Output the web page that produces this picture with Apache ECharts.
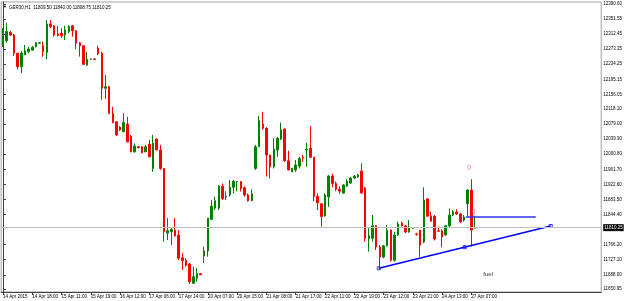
<!DOCTYPE html>
<html>
<head>
<meta charset="utf-8">
<script src="https://cdn.jsdelivr.net/npm/echarts@6/dist/echarts.min.js"></script>
<style>
  html, body { margin: 0; padding: 0; background: #fff; }
  #chart { width: 625px; height: 301px; }
</style>
</head>
<body>
<div id="chart"></div>
<script>
// GER30 H1, bars 0..129 (14 Apr 2015 -> 27 Apr 08:00)
const opens = [
  12282,12295,12317,12310,12263,12228,12259,12267,12271,12280,
  12289,12282,12265,12339,12334,12313,12315,12310,12319,12334,
  12321,12290,12282,12232,12247,12248,12276,12263,12172,12176,
  12107,12085,12071,12059,12079,12048,12007,12020,12020,12007,
  12027,11964,12040,12012,11964,11796,11800,11804,11791,11732,
  11726,11716,11666,11679,11691,11737,11750,11832,11861,11861,
  11918,11890,11895,11915,11929,11930,11914,11895,11880,11964,
  12020,12079,12068,11999,11968,12012,12040,12066,11984,11955,
  11960,11970,11993,12012,12016,11993,11891,11872,11841,11890,
  11944,11925,11910,11900,11918,11926,11939,11942,11957,11913,
  11781,11783,11815,11760,11734,11763,11804,11726,11791,11822,
  11815,11799,11809,11794,11804,11773,11885,11840,11840,11802,
  11802,11791,11815,11843,11851,11846,11830,11872,11908,11809.50
];
const closes = [
  12323,12319,12310,12263,12228,12263,12269,12274,12278,12290,
  12290,12267,12339,12332,12310,12309,12308,12323,12332,12321,
  12289,12282,12234,12247,12248,12247,12261,12172,12176,12107,
  12083,12051,12064,12083,12033,12007,12022,12018,12005,12020,
  11994,12029,12012,11964,11800,11802,11806,11789,11731,11725,
  11713,11670,11683,11692,11688,11750,11835,11866,11880,11918,
  11886,11892,11915,11930,11930,11912,11895,11880,11898,12020,
  12088,12068,11999,11968,12014,12042,12064,11984,11960,11964,
  11973,11990,11991,12014,11993,11891,11875,11839,11895,11944,
  11925,11910,11905,11921,11931,11939,11944,11947,11900,11783,
  11789,11815,11760,11734,11763,11804,11726,11791,11820,11815,
  11799,11812,11810,11793,11765,11882,11840,11827,11781,11801,
  11786,11815,11843,11851,11846,11825,11838,11908,11804,11810.25
];
const lows = [
  12279,12290,12308,12256,12221,12212,12258,12263,12269,12278,
  12287,12254,12247,12328,12306,12306,12302,12297,12315,12306,
  12273,12254,12232,12231,12246,12246,12258,12142,12144,12105,
  12081,12048,12061,12058,12032,12006,12005,12016,12003,12006,
  11993,11955,12011,11960,11774,11778,11765,11787,11726,11700,
  11709,11664,11664,11670,11687,11718,11735,11830,11856,11856,
  11882,11882,11891,11899,11904,11904,11891,11878,11879,11960,
  12020,12064,11943,11938,11964,11994,12038,11981,11959,11955,
  11955,11964,11981,11968,11991,11879,11856,11813,11839,11864,
  11915,11905,11898,11898,11916,11924,11937,11940,11898,11774,
  11748,11774,11752,11707,11731,11761,11722,11722,11789,11813,
  11796,11797,11807,11789,11735,11770,11839,11826,11777,11800,
  11759,11791,11811,11840,11843,11823,11826,11839,11761,11808.75
];
const highs = [
  12328,12342,12321,12313,12264,12269,12284,12280,12282,12292,
  12291,12293,12349,12349,12336,12334,12328,12334,12336,12336,
  12323,12292,12284,12267,12249,12249,12282,12267,12206,12178,
  12124,12087,12074,12107,12098,12051,12029,12022,12022,12025,
  12038,12051,12042,12025,11965,11835,11809,11835,11804,11744,
  11731,11719,11709,11705,11692,11761,11835,11882,11891,11921,
  11925,11904,11934,11934,11931,11931,11917,11899,11910,12025,
  12100,12111,12071,11999,12042,12045,12083,12068,12010,11965,
  11986,11994,11999,12031,12074,11994,11899,11874,11899,11947,
  11950,11930,11918,11923,11936,11942,11947,11950,11977,11915,
  11809,11843,11817,11765,11765,11817,11806,11800,11826,11826,
  11817,11830,11812,11797,11804,11915,11886,11852,11843,11813,
  11806,11817,11860,11856,11858,11848,11843,11910,11936,11840.00
];

// time labels, one every 8 bars
const xTickLabels = [
  '14 Apr 2015','14 Apr 18:00','15 Apr 11:00','15 Apr 19:00','16 Apr 12:00',
  '17 Apr 06:00','17 Apr 14:00','20 Apr 07:00','20 Apr 15:00','21 Apr 08:00',
  '21 Apr 17:00','22 Apr 11:00','22 Apr 19:00','23 Apr 12:00','23 Apr 21:00',
  '24 Apr 13:00','27 Apr 07:00'
];
const yTickLabels = [
  '12390.60','12351.55','12312.45','12273.35','12234.25','12195.15','12156.05',
  '12118.10','12079.00','12039.90','12000.80','11961.70','11922.60','11883.50',
  '11844.40','11766.20','11727.10','11688.00','11650.95'
];
const lastPrice = 11810.25;
const header = 'GER30,H1  11809.50 11840.00 11808.75 11810.25';

// drawn objects (bar index, price)
const trendLine = [[102.7, 11704.8], [149.7, 11814.5]];
const trendHandles = [[102.7, 11704.8], [126.2, 11759.6], [149.7, 11814.5]];
const levelLine = [[126.5, 11838], [145.6, 11838]];
const arrowMarks = [[127.4, 11965], [128.6, 11852]];
const noteText = [[132.6, 11690, 'fuel']];

const slots = 164;     // chart shift leaves empty room on the right
const step = 8;

const categories = [];
for (let i = 0; i < slots; i++) {
  categories.push(i % step === 0 && i / step < xTickLabels.length ? xTickLabels[i / step] : '');
}
const candles = opens.map((o, i) => [o, closes[i], lows[i], highs[i]]);
const showTick = (idx) => idx % step === 0 && idx / step < xTickLabels.length;

const font = 'Liberation Sans, Arial, sans-serif';
const small = 4.5;
const chart = echarts.init(document.getElementById('chart'));
chart.setOption({
  animation: false,
  backgroundColor: '#fff',
  grid: {
    left: 1, right: 23, top: 2, bottom: 9,
    show: true, borderColor: '#a0a0a0', borderWidth: 1
  },
  xAxis: [
    {
      type: 'category',
      data: categories,
      boundaryGap: true,
      axisLine: { lineStyle: { color: '#404040' } },
      axisTick: { show: true, interval: showTick, alignWithLabel: true, length: 3,
                  lineStyle: { color: '#404040' } },
      axisLabel: { interval: showTick, align: 'left', margin: 2, fontSize: small,
                   color: '#000', fontFamily: font },
      splitLine: { show: false }
    },
    { type: 'value', min: -0.5, max: slots - 0.5, show: false }
  ],
  yAxis: {
    type: 'value',
    position: 'right',
    min: 11643.3,
    max: 12395.8,
    axisLine: { show: true, lineStyle: { color: '#404040' } },
    axisTick: { show: true, length: 3, customValues: yTickLabels.map(Number),
                lineStyle: { color: '#404040' } },
    axisLabel: { customValues: yTickLabels.map(Number), formatter: (v) => v.toFixed(2),
                 fontSize: small, color: '#000', margin: 2, fontFamily: font },
    splitLine: { show: false }
  },
  graphic: [
    { type: 'text', left: 3, top: 5, style: { text: '\u25BC', fill: '#000', font: '4px ' + font } },
    { type: 'text', left: 9, top: 5, style: { text: header, fill: '#000', font: small + 'px ' + font } }
  ],
  series: [
    {
      type: 'candlestick',
      data: candles,
      barWidth: 2,
      itemStyle: {
        color: '#008000', color0: '#ff0000',
        borderColor: '#008000', borderColor0: '#ff0000',
        borderColorDoji: '#008000', borderWidth: 1
      },
      markLine: {
        silent: true,
        symbol: 'none',
        lineStyle: { color: '#c0c0c0', width: 1, type: 'solid' },
        label: { position: 'end', formatter: lastPrice.toFixed(2), color: '#fff',
                 backgroundColor: '#000', fontSize: small, padding: [1, 1], distance: 2,
                 fontFamily: font },
        data: [{ yAxis: lastPrice }]
      }
    },
    {
      type: 'line', xAxisIndex: 1, data: trendLine, symbol: 'none',
      lineStyle: { color: '#0000ff', width: 1.5 }
    },
    {
      type: 'line', xAxisIndex: 1, data: levelLine, symbol: 'none',
      lineStyle: { color: '#3030ff', width: 1.5 }
    },
    {
      type: 'scatter', xAxisIndex: 1, data: trendHandles, symbol: 'rect', symbolSize: 3,
      itemStyle: { color: '#fff', borderColor: '#0000ff', borderWidth: 1 }
    },
    {
      type: 'scatter', xAxisIndex: 1, data: arrowMarks, symbolSize: 0,
      label: { show: true, position: 'inside', formatter: '0', color: '#ff5050',
               fontSize: 7, fontFamily: font }
    },
    {
      type: 'scatter', xAxisIndex: 1, data: noteText, symbolSize: 0,
      label: { show: true, position: 'inside', formatter: (p) => p.data[2], color: '#000',
               fontSize: 6, fontFamily: font }
    }
  ]
});
</script>
</body>
</html>
